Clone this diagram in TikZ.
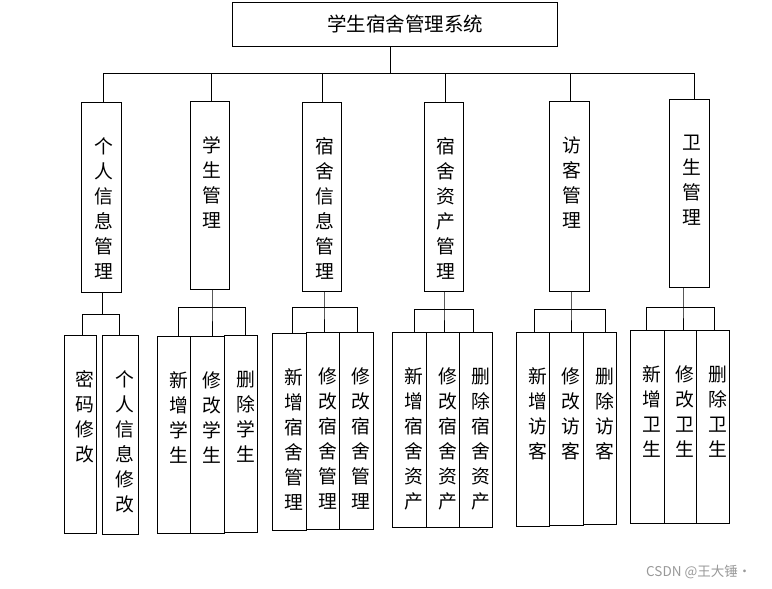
\documentclass[tikz,border=0pt]{standalone}
\usepackage{fontspec}
\newfontfamily\cjk{Noto Sans CJK SC}
\usetikzlibrary{positioning}

\begin{document}
\begin{tikzpicture}[
  x=1pt, y=-1pt,
  box/.style={draw, line width=1pt, inner sep=0pt},
  vtxt/.style={font=\cjk\fontsize{18.8}{25}\selectfont, align=center, inner sep=0pt},
  link/.style={line width=1pt}
]
  \useasboundingbox (0,0) rectangle (772,589);

  % root
  \node[box, minimum width=325pt, minimum height=44pt, font=\cjk\fontsize{19.5}{22}\selectfont] (sys) at (394.5,24) {\hspace*{21pt}学生宿舍管理系统};

  % modules
  \node[box, minimum width=40pt, minimum height=190pt] (per) at (101.5,197) {};
  \node[box, minimum width=39pt, minimum height=188pt] (stu) at (209.5,195) {};
  \node[box, minimum width=39pt, minimum height=189pt] (dorm) at (322,196.5) {};
  \node[box, minimum width=39pt, minimum height=189pt] (asset) at (443.5,196.5) {};
  \node[box, minimum width=40pt, minimum height=190pt] (visit) at (569.5,196) {};
  \node[box, minimum width=40pt, minimum height=188pt] (clean) at (689,193) {};

  \node[vtxt, below=36pt of per.north, xshift=2.5pt] (perT) {个\\人\\信\\息\\管\\理};
  \node[vtxt, below=36pt of stu.north, xshift=2.5pt] (stuT) {学\\生\\管\\理};
  \node[vtxt, below=36pt of dorm.north, xshift=2.5pt] (dormT) {宿\\舍\\信\\息\\管\\理};
  \node[vtxt, below=36pt of asset.north, xshift=2.5pt] (assetT) {宿\\舍\\资\\产\\管\\理};
  \node[vtxt, below=36pt of visit.north, xshift=2.5pt] (visitT) {访\\客\\管\\理};
  \node[vtxt, below=36pt of clean.north, xshift=2.5pt] (cleanT) {卫\\生\\管\\理};

  % functions
  \node[box, minimum width=32pt, minimum height=198pt] (per1) at (80,434) {};
  \node[box, minimum width=36pt, minimum height=199pt] (per2) at (120,434.5) {};
  \node[box, minimum width=33pt, minimum height=197pt] (stu1) at (173.5,434.5) {};
  \node[box, minimum width=34pt, minimum height=197pt] (stu2) at (207,434.5) {};
  \node[box, minimum width=33pt, minimum height=197pt] (stu3) at (240.5,433.5) {};
  \node[box, minimum width=34pt, minimum height=197pt] (dorm1) at (289,431.5) {};
  \node[box, minimum width=33pt, minimum height=197pt] (dorm2) at (322.5,430.5) {};
  \node[box, minimum width=34pt, minimum height=197pt] (dorm3) at (356,430.5) {};
  \node[box, minimum width=34pt, minimum height=195pt] (asset1) at (409,429.5) {};
  \node[box, minimum width=33pt, minimum height=195pt] (asset2) at (442.5,429.5) {};
  \node[box, minimum width=33pt, minimum height=195pt] (asset3) at (475.5,429.5) {};
  \node[box, minimum width=33pt, minimum height=194pt] (visit1) at (532.5,429) {};
  \node[box, minimum width=34pt, minimum height=193pt] (visit2) at (566,428.5) {};
  \node[box, minimum width=33pt, minimum height=192pt] (visit3) at (599.5,428) {};
  \node[box, minimum width=34pt, minimum height=193pt] (clean1) at (647,426.5) {};
  \node[box, minimum width=32pt, minimum height=193pt] (clean2) at (680,426.5) {};
  \node[box, minimum width=33pt, minimum height=193pt] (clean3) at (712.5,426.5) {};

  \node[vtxt, below=36pt of per1.north, xshift=5pt] (per1T) {密\\码\\修\\改};
  \node[vtxt, below=36pt of per2.north, xshift=5pt] (per2T) {个\\人\\信\\息\\修\\改};
  \node[vtxt, below=36pt of stu1.north, xshift=5pt] (stu1T) {新\\增\\学\\生};
  \node[vtxt, below=36pt of stu2.north, xshift=5pt] (stu2T) {修\\改\\学\\生};
  \node[vtxt, below=36pt of stu3.north, xshift=5pt] (stu3T) {删\\除\\学\\生};
  \node[vtxt, below=36pt of dorm1.north, xshift=5pt] (dorm1T) {新\\增\\宿\\舍\\管\\理};
  \node[vtxt, below=36pt of dorm2.north, xshift=5pt] (dorm2T) {修\\改\\宿\\舍\\管\\理};
  \node[vtxt, below=36pt of dorm3.north, xshift=5pt] (dorm3T) {修\\改\\宿\\舍\\管\\理};
  \node[vtxt, below=36pt of asset1.north, xshift=5pt] (asset1T) {新\\增\\宿\\舍\\资\\产};
  \node[vtxt, below=36pt of asset2.north, xshift=5pt] (asset2T) {修\\改\\宿\\舍\\资\\产};
  \node[vtxt, below=36pt of asset3.north, xshift=5pt] (asset3T) {删\\除\\宿\\舍\\资\\产};
  \node[vtxt, below=36pt of visit1.north, xshift=5pt] (visit1T) {新\\增\\访\\客};
  \node[vtxt, below=36pt of visit2.north, xshift=5pt] (visit2T) {修\\改\\访\\客};
  \node[vtxt, below=36pt of visit3.north, xshift=5pt] (visit3T) {删\\除\\访\\客};
  \node[vtxt, below=36pt of clean1.north, xshift=5pt] (clean1T) {新\\增\\卫\\生};
  \node[vtxt, below=36pt of clean2.north, xshift=5pt] (clean2T) {修\\改\\卫\\生};
  \node[vtxt, below=36pt of clean3.north, xshift=5pt] (clean3T) {删\\除\\卫\\生};

  % tree lines
  \coordinate (bus) at (390,73);
  \draw[link] (sys.south -| bus) -- (bus);
  \draw[link] ([xshift=1.5pt]per.north) |- ([xshift=5pt]clean.north |- bus) -- ([xshift=5pt]clean.north);
  \draw[link] ([xshift=2pt]stu.north) -- ([xshift=2pt]stu.north |- bus);
  \draw[link] (dorm.north) -- (dorm.north |- bus);
  \draw[link] ([xshift=2pt]asset.north) -- ([xshift=2pt]asset.north |- bus);
  \draw[link] ([xshift=1pt]visit.north) -- ([xshift=1pt]visit.north |- bus);

  \coordinate (perB) at (102,314);
  \draw[link] (per.south -| perB) -- (perB);
  \draw[link] ([xshift=2pt]per1.north) |- ([xshift=-1pt]per2.north |- perB) -- ([xshift=-1pt]per2.north);

  \coordinate (stuB) at (212,307);
  \draw[link] (stu.south -| stuB) -- (stuB) -- (stu2.north -| stuB);
  \draw[link] ([xshift=4.5pt]stu1.north) |- ([xshift=4.5pt]stu3.north |- stuB) -- ([xshift=4.5pt]stu3.north);

  \coordinate (dormB) at (324,307);
  \draw[link] (dorm.south -| dormB) -- (dormB) -- (dorm2.north -| dormB);
  \draw[link] ([xshift=3pt]dorm1.north) |- ([xshift=1pt]dorm3.north |- dormB) -- ([xshift=1pt]dorm3.north);

  \coordinate (assetB) at (444,309);
  \draw[link] (asset.south -| assetB) -- (assetB) -- (asset2.north -| assetB);
  \draw[link] ([xshift=5pt]asset1.north) |- ([xshift=-2.5pt]asset3.north |- assetB) -- ([xshift=-2.5pt]asset3.north);

  \coordinate (visitB) at (571,309);
  \draw[link] (visit.south -| visitB) -- (visitB) -- (visit2.north -| visitB);
  \draw[link] ([xshift=1.5pt]visit1.north) |- ([xshift=5.5pt]visit3.north |- visitB) -- ([xshift=5.5pt]visit3.north);

  \coordinate (cleanB) at (683,307);
  \draw[link] (clean.south -| cleanB) -- (cleanB) -- (clean2.north -| cleanB);
  \draw[link] ([xshift=-1pt]clean1.north) |- ([xshift=1.5pt]clean3.north |- cleanB) -- ([xshift=1.5pt]clean3.north);

  \node[font=\cjk\fontsize{13.5}{15}\selectfont, text=black!40, anchor=west, inner sep=0pt] (mark) at (646,572) {CSDN @王大锤·};
\end{tikzpicture}
\end{document}
